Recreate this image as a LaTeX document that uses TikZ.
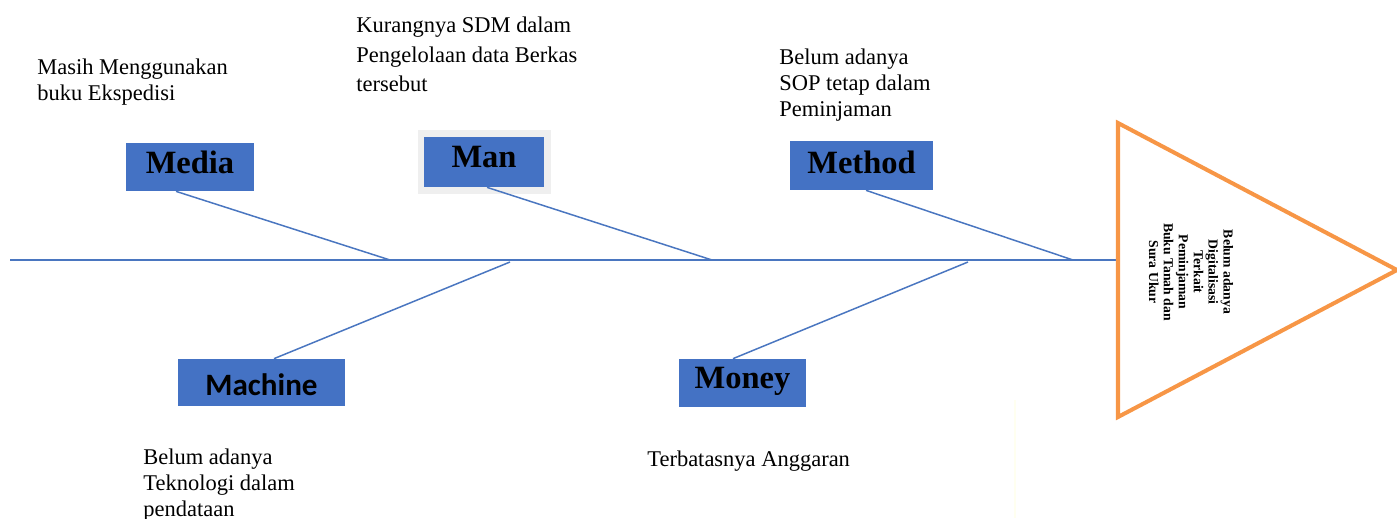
\documentclass[tikz,border=0pt]{standalone}
\usepackage{fontspec}
\setmainfont{Liberation Serif}
\newfontfamily\calibrifont{Carlito}
\definecolor{boxblue}{HTML}{4472C4}
\definecolor{lineblue}{HTML}{4A76C0}
\definecolor{triorange}{HTML}{F79646}
\definecolor{framegray}{HTML}{EFEFEF}
\definecolor{faintyellow}{HTML}{FFFFF0}
\begin{document}
\begin{tikzpicture}[x=0.02cm,y=-0.02cm,
  bone/.style={draw=lineblue,line width=0.85pt},
  catbox/.style={fill=boxblue,inner sep=0pt,text height=13pt,text depth=0pt,font=\fontsize{18.5}{20}\selectfont\bfseries},
  note/.style={anchor=north west,inner sep=0pt,align=left,font=\fontsize{12.8}{14.7}\selectfont},
  headtext/.style={inner sep=0pt,align=center,rotate=-90,font=\fontsize{7.8}{8.5}\selectfont\bfseries}]
\useasboundingbox (0,0) rectangle (1397,518);
% faint line
\draw[faintyellow,line width=0.8pt] (1015,400) -- (1015,518);
% spine
\coordinate (tail) at (10,260);
\coordinate (head) at (1118,260);
\draw[bone] (tail) -- (head);
% head triangle
\coordinate (t1) at (1118,123);
\coordinate (t2) at (1397,270);
\coordinate (t3) at (1118,417);
\draw[triorange,line width=2.3pt,line join=miter] (t1) -- (t2) -- (t3) -- cycle;
\node[headtext] (effect) at (1191,272) {Belum adanya\\Digitalisasi\\Terkait\\Peminjaman\\Buku Tanah dan\\Sura Ukur};
% junctions
\coordinate (j1) at (390,260);
\coordinate (j2) at (712,260);
\coordinate (j3) at (1073,260);
\coordinate (j4) at (510,262);
\coordinate (j5) at (968,262);
% boxes
\node[fill=framegray,minimum width=2.66cm,minimum height=1.28cm,inner sep=0pt] (manframe) at (484.5,162) {};
\node[catbox,minimum width=2.56cm,minimum height=0.96cm] (media) at (190,167) {\raisebox{2.65pt}{Media}};
\node[catbox,minimum width=2.40cm,minimum height=1.00cm] (man) at (484,162) {\raisebox{3.15pt}{Man}};
\node[catbox,minimum width=2.86cm,minimum height=0.98cm] (method) at (861.5,165.5) {\raisebox{1.75pt}{Method}};
\node[catbox,minimum width=3.34cm,minimum height=0.94cm,font=\calibrifont\fontsize{17.7}{20}\selectfont\bfseries] (machine) at (261.5,382.5) {\raisebox{-1.1pt}{Machine}};
\node[catbox,minimum width=2.54cm,minimum height=0.96cm] (money) at (742.5,383) {\raisebox{3.45pt}{Money}};
% bones
\draw[bone] ([xshift=-0.28cm]media.south) -- (j1);
\draw[bone] ([xshift=0.06cm]man.south) -- (j2);
\draw[bone] ([xshift=0.09cm]method.south) -- (j3);
\draw[bone] ([xshift=0.25cm]machine.north) -- (j4);
\draw[bone] ([xshift=-0.19cm]money.north) -- (j5);
% notes
\node[note] (n1) at (37,59) {Masih Menggunakan\\buku Ekspedisi};
\node[note,font=\fontsize{12.8}{16.7}\selectfont] (n2) at (356,17) {Kurangnya SDM dalam\\Pengelolaan data Berkas\\tersebut};
\node[note] (n3) at (779,49) {Belum adanya\\SOP tetap dalam\\Peminjaman};
\node[note] (n4) at (143,449) {Belum adanya\\Teknologi dalam\\pendataan};
\node[note] (n5) at (647,451) {Terbatasnya Anggaran};
\end{tikzpicture}
\end{document}
